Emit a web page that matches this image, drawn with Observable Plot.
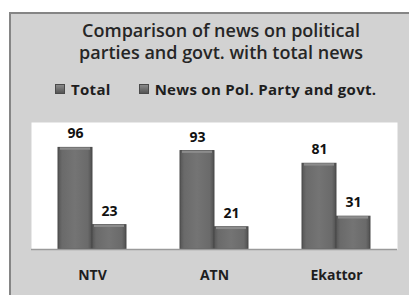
<!DOCTYPE html>
<html><head><meta charset="utf-8">
<script src="https://cdn.jsdelivr.net/npm/d3@7"></script>
<script src="https://cdn.jsdelivr.net/npm/@observablehq/plot@0.6"></script>
<style>
html,body{margin:0;padding:0;background:#fff;}
#wrap{position:relative;width:409px;height:295px;overflow:hidden;font-family:"Open Sans",Lato,sans-serif;}
#bg{position:absolute;left:9px;top:12px;width:400px;height:283px;background:#d2d2d2;border-left:2px solid #858585;border-top:2px solid #858585;box-sizing:border-box;}
#title{position:absolute;left:40px;top:19px;width:362px;text-align:center;font-size:18px;font-weight:600;color:#262626;line-height:22px;}
#legend{position:absolute;top:79px;left:55px;font-size:15px;font-weight:700;color:#1e1e1e;white-space:nowrap;letter-spacing:0.3px;}
#legend span.sw{display:inline-block;width:8px;height:8px;background:linear-gradient(#8a8a8a,#555);border:1px solid #4a4a4a;margin-right:6px;vertical-align:1px;}
#legend span.item{margin-right:28px;}
#chart{position:absolute;left:0;top:110px;}
</style></head>
<body>
<div id="wrap">
  <div id="bg"></div>
  <div id="title">Comparison of news on political<br>parties and govt. with total news</div>
  <div id="legend"></div>
  <div id="chart"></div>
</div>
<script>
const channels = ["NTV", "ATN", "Ekattor"];
const seriesNames = ["Total", "News on Pol. Party and govt."];
const totalNews = [96, 93, 81];
const politicalNews = [23, 21, 31];

const data = [];
channels.forEach((c, i) => {
  data.push({channel: c, series: seriesNames[0], value: totalNews[i]});
  data.push({channel: c, series: seriesNames[1], value: politicalNews[i]});
});

const legend = document.getElementById("legend");
seriesNames.forEach(s => {
  const it = document.createElement("span");
  it.className = "item";
  it.innerHTML = '<span class="sw"></span>' + s;
  legend.appendChild(it);
});

const chart = Plot.plot({
  width: 409,
  height: 185,
  marginTop: 12,
  marginBottom: 46,
  marginLeft: 30,
  marginRight: 12,
  style: {background: "transparent", fontFamily: "'Open Sans', Lato, sans-serif"},
  fx: {domain: channels, padding: 0, label: null, tickSize: 0, tickPadding: 21},
  x: {domain: seriesNames, padding: 0, paddingOuter: 0.75, axis: null},
  y: {domain: [0, 120], axis: null},
  marks: [
    Plot.frame({fill: "white", stroke: null, facet: "super"}),
    Plot.barY(data, {fx: "channel", x: "series", y: "value", fill: "url(#barGrad)", stroke: "#4a4a4a", strokeWidth: 1, inset: 0}),
    Plot.barY(data, {fx: "channel", x: "series", y1: d => d.value - 2.2, y2: "value", fill: "#8c8c8c", insetLeft: 2, insetRight: 2}),
    Plot.text(data, {fx: "channel", x: "series", y: "value", text: d => String(d.value), dy: -14, fontSize: 14, fontWeight: "bold", fill: "#111"}),
    Plot.ruleY([0], {stroke: "#9a9a9a", strokeWidth: 1.5})
  ]
});

const svgNS = "http://www.w3.org/2000/svg";
const defs = document.createElementNS(svgNS, "defs");
defs.innerHTML = '<linearGradient id="barGrad" x1="0" x2="1" y1="0" y2="0">' +
  '<stop offset="0" stop-color="#555"/><stop offset="0.12" stop-color="#6a6a6a"/>' +
  '<stop offset="0.5" stop-color="#747474"/><stop offset="0.88" stop-color="#6a6a6a"/>' +
  '<stop offset="1" stop-color="#505050"/></linearGradient>';
chart.insertBefore(defs, chart.firstChild);
chart.querySelectorAll("g[aria-label='fx-axis tick label']").forEach(g => {
  g.setAttribute("font-size", "14");
  g.setAttribute("font-weight", "bold");
  g.setAttribute("fill", "#1e1e1e");
});
document.getElementById("chart").appendChild(chart);
</script>
</body></html>
